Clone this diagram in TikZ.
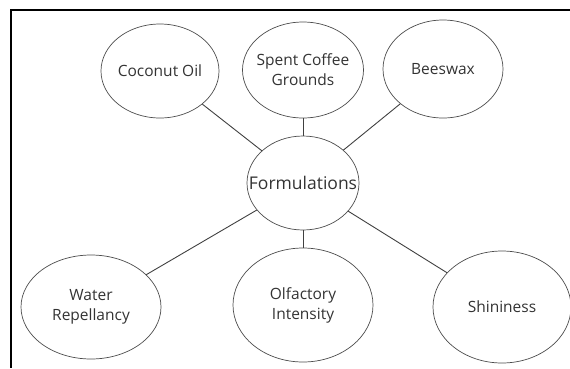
\documentclass[tikz,border=0pt]{standalone}
\usepackage{fontspec}
\setmainfont{Open Sans}
\usetikzlibrary{shapes.geometric}
\begin{document}
\begin{tikzpicture}[x=1pt,y=-1pt,
    every node/.style={ellipse,draw=black!70,line width=0.7pt,inner xsep=-40pt,inner ysep=-30pt,align=center,text=black!80,font=\fontsize{15.5}{20}\selectfont},
    link/.style={draw=black!75,line width=0.9pt}]
          \useasboundingbox (0,0) rectangle (570,368);
          % Frame
          \draw[line width=1.2pt] (570,10) -- (11,10) -- (11,368);
          % Top nodes
          \node[minimum width=118pt,minimum height=94pt] (oil) at (160,71) {Coconut Oil};
          \node[minimum width=121pt,minimum height=96pt] (coffee) at (303,70) {Spent Coffee\\Grounds};
          \node[minimum width=120pt,minimum height=98pt] (wax) at (443,69) {Beeswax};
          % Centre
          \node[minimum width=112pt,minimum height=94pt,font=\fontsize{17.5}{20}\selectfont] (form) at (303,183) {Formulations};
          % Bottom nodes
          \node[minimum width=140pt,minimum height=104pt] (water) at (91,307) {Water\\Repellancy};
          \node[minimum width=140pt,minimum height=114pt] (smell) at (303,305) {Olfactory\\Intensity};
          \node[minimum width=138pt,minimum height=112pt] (shine) at (502,307) {Shininess};
          % Links
          \draw[link] (oil) -- (form);
          \draw[link] (coffee) -- (form);
          \draw[link] (wax) -- (form);
          \draw[link] (water) -- (form);
          \draw[link] (smell) -- (form);
          \draw[link] (shine) -- (form);
        \end{tikzpicture}
\end{document}
